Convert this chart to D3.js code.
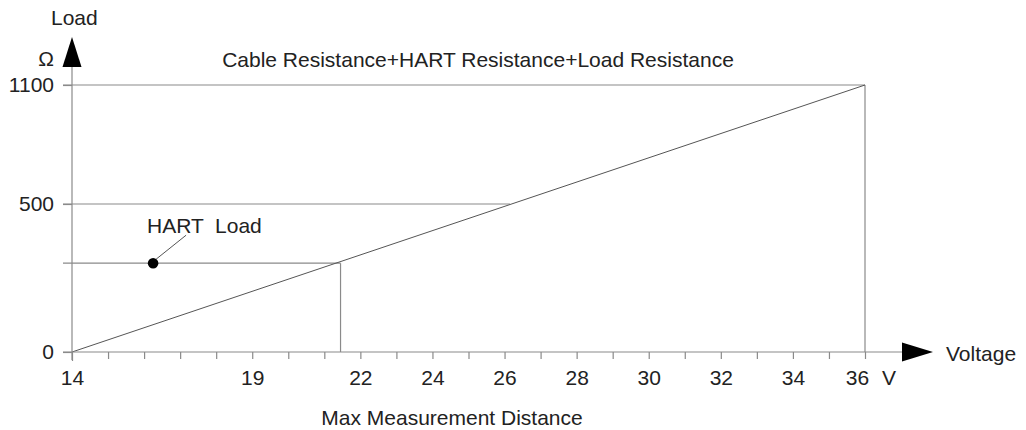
<!DOCTYPE html>
<html lang="en">
<head>
<meta charset="UTF-8">
<title>Load vs Voltage</title>
<script src="https://d3js.org/d3.v7.min.js"></script>
<style>
body { margin: 0; background: #fff; }
svg text { font-family: "Liberation Sans", Arial, Helvetica, sans-serif; fill: #222; }
</style>
</head>
<body>
<div id="chart"></div>
<script>
// data
var voltageTicks = d3.range(14, 37, 1);
var voltageLabels = [14, 19, 22, 24, 26, 28, 30, 32, 34, 36];
var loadTicks = [0, 500, 1100];
var lineVoltage = [14, 36];
var lineLoad = [0, 1100];
var refLoads = [1100, 500, 300];
var refVoltages = [36, 26.15, 21.45];
var hartDotVoltage = 16.25;
var hartLoad = 300;

var width = 1026, height = 430;

var svg = d3.select("#chart").append("svg")
    .attr("width", width)
    .attr("height", height);

// x is linear; y is drawn schematically (0-500 stretched)
var x = d3.scaleLinear().domain([14, 36]).range([72, 865]);
var y = d3.scaleLinear().domain([0, 500, 1100]).range([352, 204, 85]);

var gridColor = "#8a8a8a";

// reference lines
refLoads.forEach(function(r, i) {
  svg.append("line")
    .attr("x1", x(14) - 9).attr("x2", x(refVoltages[i]))
    .attr("y1", y(r)).attr("y2", y(r))
    .style("stroke", gridColor).style("stroke-width", 1.2);
});
// verticals at 36 and at the HART point
[[36, 1100], [refVoltages[2], hartLoad]].forEach(function(p) {
  svg.append("line")
    .attr("x1", x(p[0])).attr("x2", x(p[0]))
    .attr("y1", y(0)).attr("y2", y(p[1]))
    .style("stroke", gridColor).style("stroke-width", 1.2);
});

// load line
svg.append("line")
  .attr("x1", x(lineVoltage[0])).attr("y1", y(lineLoad[0]))
  .attr("x2", x(lineVoltage[1])).attr("y2", y(lineLoad[1]))
  .style("stroke", "#555").style("stroke-width", 1);

// x axis
var xAxis = svg.append("g")
  .attr("transform", "translate(0," + y(0) + ")")
  .call(d3.axisBottom(x)
    .tickValues(voltageTicks)
    .tickSize(7).tickSizeOuter(0).tickPadding(11)
    .tickFormat(function(d) { return voltageLabels.indexOf(d) >= 0 ? d : ""; }));
xAxis.select(".domain").remove();
xAxis.selectAll(".tick line").style("stroke", gridColor).style("stroke-width", 1.2);
xAxis.selectAll(".tick text").style("font-size", "21px").style("fill", "#222");
xAxis.selectAll(".tick").filter(function(d) { return d === 14; }).select("line").attr("y2", 9);
xAxis.selectAll(".tick").filter(function(d) { return d === 36; }).select("text").attr("dx", -8);

svg.append("line")
  .attr("x1", x(14) - 9).attr("x2", 905)
  .attr("y1", y(0)).attr("y2", y(0))
  .style("stroke", gridColor).style("stroke-width", 1.2);
svg.append("path")
  .attr("d", "M902," + (y(0) - 9.5) + "L933," + y(0) + "L902," + (y(0) + 9.5) + "Z")
  .style("fill", "#000");

// y axis
var yAxis = svg.append("g")
  .attr("transform", "translate(" + x(14) + ",0)")
  .call(d3.axisLeft(y).tickValues(loadTicks).tickFormat(d3.format("d"))
    .tickSize(9).tickSizeOuter(0).tickPadding(9));
yAxis.select(".domain").remove();
yAxis.selectAll(".tick line").style("stroke", gridColor).style("stroke-width", 1.2);
yAxis.selectAll(".tick text").style("font-size", "21px").style("fill", "#222");

svg.append("line")
  .attr("x1", x(14)).attr("x2", x(14))
  .attr("y1", y(0) + 8).attr("y2", 64)
  .style("stroke", gridColor).style("stroke-width", 1.2);
svg.append("path")
  .attr("d", "M" + (x(14) - 9.5) + ",67L" + x(14) + ",37L" + (x(14) + 9.5) + ",67Z")
  .style("fill", "#000");

// HART dot and leader
svg.append("circle")
  .attr("cx", x(hartDotVoltage)).attr("cy", y(hartLoad)).attr("r", 5.3)
  .style("fill", "#000");
svg.append("line")
  .attr("x1", x(hartDotVoltage) + 3).attr("y1", y(hartLoad) - 4)
  .attr("x2", x(hartDotVoltage) + 33).attr("y2", y(hartLoad) - 28)
  .style("stroke", "#555").style("stroke-width", 1);

// texts
function label(t, px, py, anchor) {
  return svg.append("text")
    .attr("x", px).attr("y", py)
    .attr("text-anchor", anchor || "start")
    .style("font-size", "21px")
    .attr("xml:space", "preserve")
    .text(t);
}
label("Load", 51, 25);
label("\u03a9", 54, 66, "end");
label("Cable Resistance+HART Resistance+Load Resistance", 478, 67, "middle");
label("HART  Load", 147, 233);
label("V", 882, 385);
label("Voltage", 946, 361);
label("Max Measurement Distance", 452, 425, "middle");
</script>
</body>
</html>
